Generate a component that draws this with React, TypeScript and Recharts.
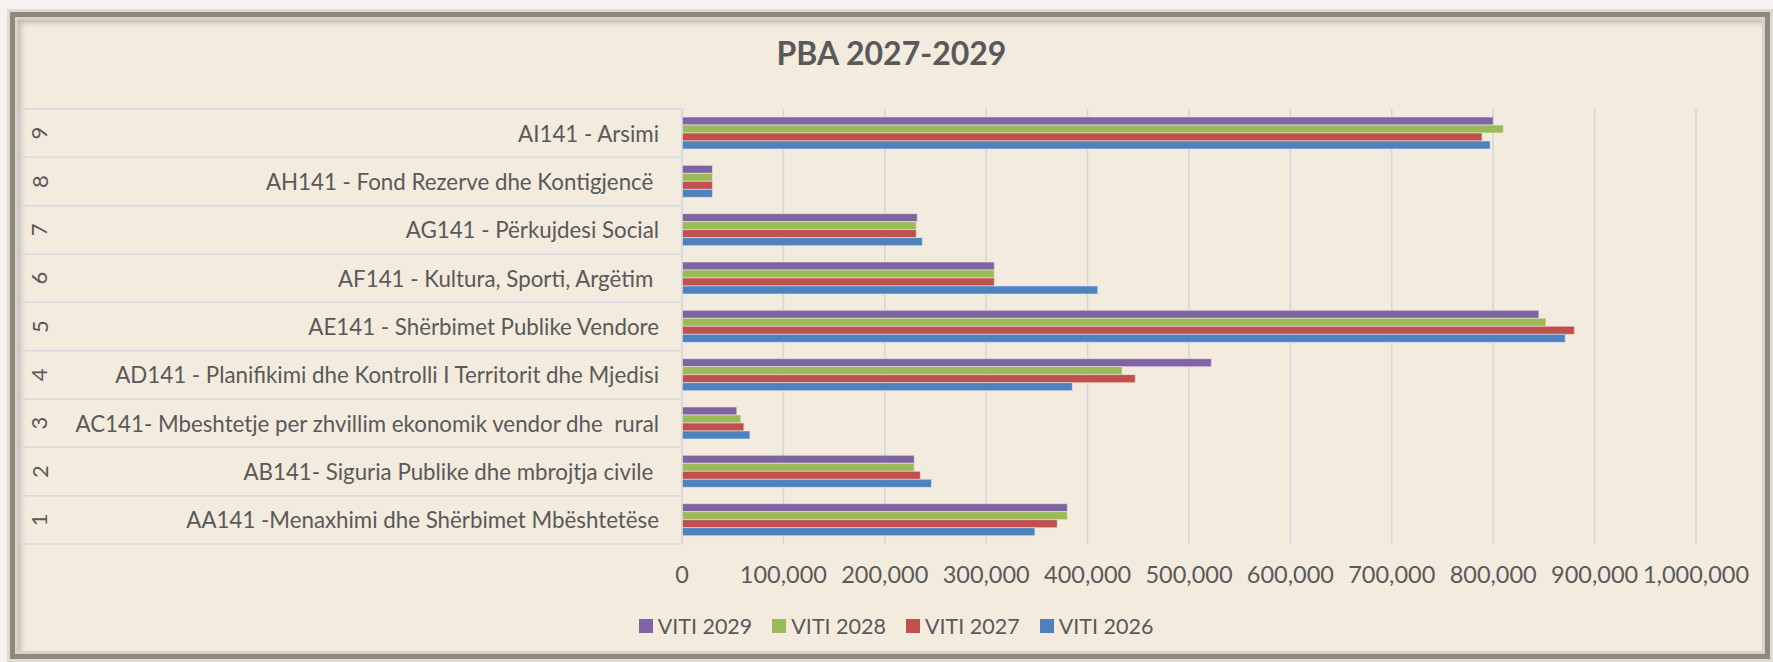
import React from 'react';
import { BarChart, Bar, XAxis, YAxis, CartesianGrid, Legend } from 'recharts';

document.body.style.margin = '0';

const codes = ['1', '2', '3', '4', '5', '6', '7', '8', '9'];
const programs = [
  'AA141 -Menaxhimi dhe Shërbimet Mbështetëse',
  'AB141- Siguria Publike dhe mbrojtja civile ',
  'AC141- Mbeshtetje per zhvillim ekonomik vendor dhe  rural',
  'AD141 - Planifikimi dhe Kontrolli I Territorit dhe Mjedisi',
  'AE141 - Shërbimet Publike Vendore',
  'AF141 - Kultura, Sporti, Argëtim ',
  'AG141 - Përkujdesi Social',
  'AH141 - Fond Rezerve dhe Kontigjencë ',
  'AI141 - Arsimi',
];
const viti2029 = [380000, 229000, 54000, 522000, 845000, 308000, 232000, 30000, 800000];
const viti2028 = [380000, 229000, 58000, 434000, 852000, 308000, 231000, 30000, 810000];
const viti2027 = [370000, 235000, 61000, 447000, 880000, 308000, 231000, 30000, 789000];
const viti2026 = [348000, 246000, 67000, 385000, 871000, 410000, 237000, 30000, 797000];
const xTicks = [0, 100000, 200000, 300000, 400000, 500000, 600000, 700000, 800000, 900000, 1000000];

const W = 1773;
const H = 662;
const MARGIN = { top: 109, right: 77, bottom: 19, left: 21 };
const Y_AXIS_W = 661;
const X_AXIS_H = 65;
const LEGEND_H = 34;
const PLOT_H = H - MARGIN.top - MARGIN.bottom - X_AXIS_H - LEGEND_H;
const ROW_H = PLOT_H / programs.length;

const FONT = "Lato, 'Open Sans', sans-serif";
const TEXT = '#595959';
const ROW_LINE = '#d6d9df';

const data = programs.map((p, i) => ({
  program: p,
  code: codes[i],
  v2029: viti2029[i],
  v2028: viti2028[i],
  v2027: viti2027[i],
  v2026: viti2026[i],
}));

function CategoryTick(props: any) {
  const { x, y, payload, index } = props;
  const left = MARGIN.left;
  const right = MARGIN.left + Y_AXIS_W;
  const top = y - ROW_H / 2;
  const bottom = y + ROW_H / 2;
  const nx = left + 18;
  return (
    <g>
      <line x1={left} x2={right} y1={top} y2={top} stroke={ROW_LINE} strokeWidth={1.5} />
      {index === 0 && <line x1={left} x2={right} y1={bottom} y2={bottom} stroke={ROW_LINE} strokeWidth={1.5} />}
      <line x1={left} x2={left} y1={top} y2={bottom} stroke={ROW_LINE} strokeWidth={1.5} />
      <line x1={right} x2={right} y1={top} y2={bottom} stroke={ROW_LINE} strokeWidth={1.5} />
      <text
        x={nx}
        y={y}
        transform={`rotate(-90, ${nx}, ${y})`}
        textAnchor="middle"
        dominantBaseline="central"
        fill={TEXT}
        fontSize={22}
        fontFamily={FONT}
      >
        {codes[index]}
      </text>
      <text
        x={x}
        y={y}
        textAnchor="end"
        dominantBaseline="central"
        fill={TEXT}
        fontSize={22.3}
        fontFamily={FONT}
        style={{ whiteSpace: 'pre' }}
      >
        {payload.value}
      </text>
    </g>
  );
}

function renderLegend(props: any) {
  // vertical layout hands the payload over bottom-up, the original lists 2029 first
  const items = [...(props.payload || [])].reverse();
  return (
    <div
      style={{
        height: LEGEND_H,
        display: 'flex',
        alignItems: 'center',
        justifyContent: 'center',
        paddingLeft: 19,
        fontFamily: FONT,
        fontSize: 21.5,
        color: TEXT,
      }}
    >
      {items.map((entry: any, i: number) => (
        <div
          key={entry.value}
          style={{ display: 'flex', alignItems: 'center', marginRight: i < items.length - 1 ? 20 : 0 }}
        >
          <span style={{ width: 14, height: 14, background: entry.color, marginRight: 5, display: 'inline-block' }} />
          <span>{entry.value}</span>
        </div>
      ))}
    </div>
  );
}

export default function App() {
  return (
    <div style={{ position: 'relative', width: W, height: H, background: '#f4f3ef', overflow: 'hidden' }}>
      <div
        style={{
          position: 'absolute',
          left: 10,
          top: 12,
          width: W - 13,
          height: H - 15,
          boxSizing: 'border-box',
          border: '5px solid #8c897f',
          outline: '3px solid #dedbd3',
          boxShadow: 'inset 0 0 0 3px #d8d3c6, inset 5px 5px 6px rgba(0,0,0,0.25)',
          background: '#f2ebde',
        }}
      />
      <div
        style={{
          position: 'absolute',
          left: 0,
          width: W,
          top: 33,
          textAlign: 'center',
          fontFamily: FONT,
          fontWeight: 700,
          fontSize: 32,
          color: TEXT,
          paddingLeft: 10,
          boxSizing: 'border-box',
        }}
      >
        PBA 2027-2029
      </div>
      <div style={{ position: 'absolute', left: 0, top: 0 }}>
        <BarChart
          width={W}
          height={H}
          data={data}
          layout="vertical"
          margin={MARGIN}
          barSize={8}
          barGap={0}
        >
          <CartesianGrid horizontal={false} stroke="#d3d6de" strokeWidth={1.5} />
          <XAxis
            type="number"
            domain={[0, 1000000]}
            ticks={xTicks}
            axisLine={false}
            tickLine={false}
            tickMargin={16}
            height={X_AXIS_H}
            tick={{ fill: TEXT, fontSize: 23.5, fontFamily: FONT }}
            tickFormatter={(v: number) => v.toLocaleString('en-US')}
          />
          <YAxis
            type="category"
            dataKey="program"
            reversed
            width={Y_AXIS_W}
            interval={0}
            axisLine={false}
            tickLine={false}
            tickSize={0}
            tickMargin={23}
            tick={<CategoryTick />}
          />
          <Legend verticalAlign="bottom" content={renderLegend} wrapperStyle={{ left: 0, width: W }} />
          <Bar dataKey="v2029" name="VITI 2029" fill="#8064a2" stroke="#e8e2ee" strokeWidth={0.6} isAnimationActive={false} />
          <Bar dataKey="v2028" name="VITI 2028" fill="#9bbb59" stroke="#e9efdc" strokeWidth={0.6} isAnimationActive={false} />
          <Bar dataKey="v2027" name="VITI 2027" fill="#c0504d" stroke="#f0dcdb" strokeWidth={0.6} isAnimationActive={false} />
          <Bar dataKey="v2026" name="VITI 2026" fill="#4f81bd" stroke="#dde6f1" strokeWidth={0.6} isAnimationActive={false} />
        </BarChart>
      </div>
    </div>
  );
}
